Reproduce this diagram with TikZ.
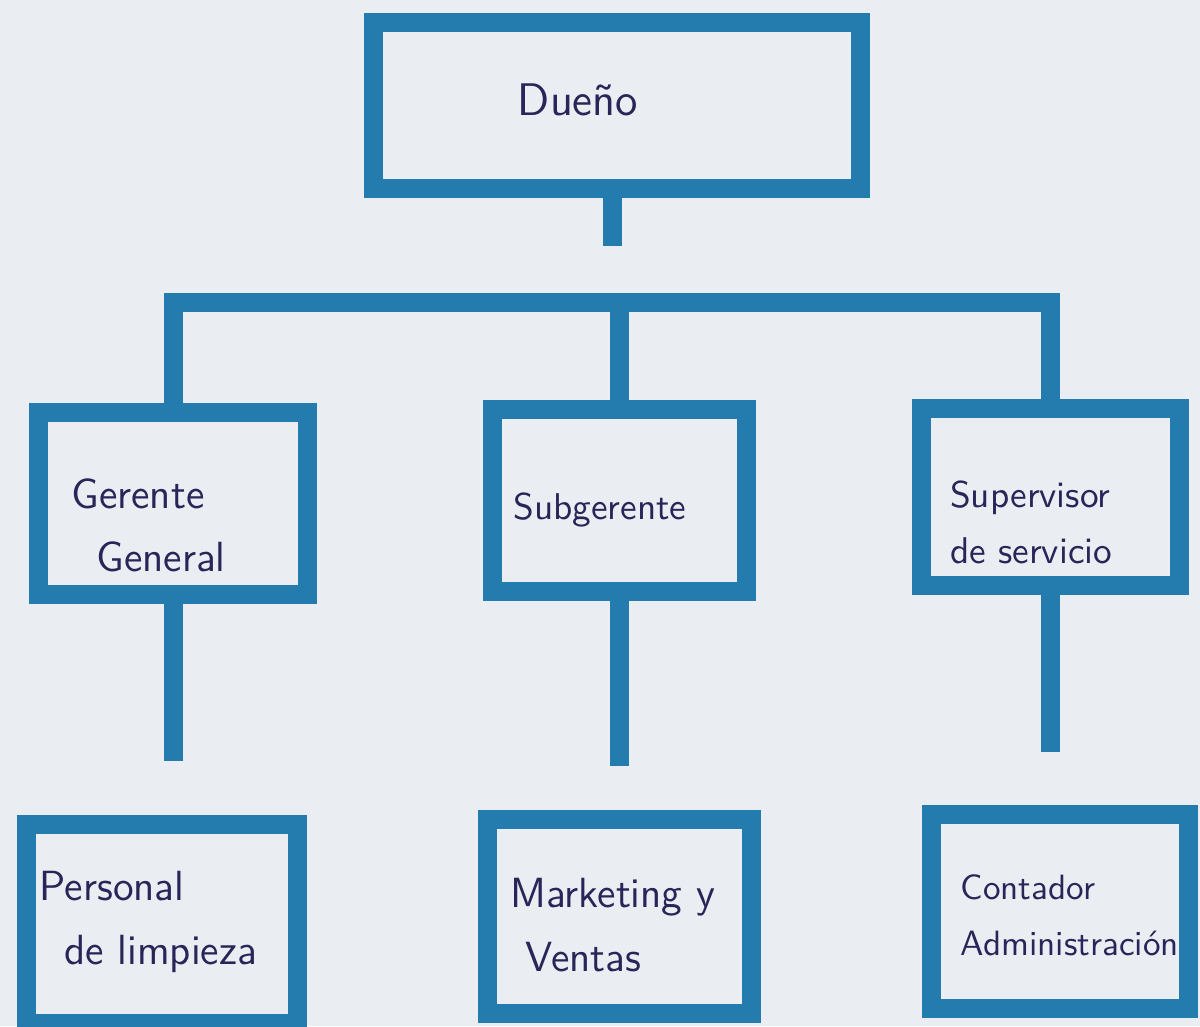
\documentclass[tikz,border=0pt]{standalone}
\usepackage{tikz}
\usetikzlibrary{calc}
\usetikzlibrary{positioning}
\usepackage{xcolor}
\definecolor{orgblue}{RGB}{36,124,174}
\definecolor{paper}{RGB}{234,238,242}
\definecolor{ink}{RGB}{42,36,88}
\newcommand{\widthframe}{1.9mm}
\tikzset{
    frame/.style={draw=orgblue, line width=\widthframe, rectangle, inner sep=0pt},
    link/.style={draw=orgblue, line width=\widthframe},
    hand/.style={ink, font=\sffamily\fontsize{10}{16}\selectfont, align=left, inner sep=0pt},
    midhand/.style={hand, font=\sffamily\fontsize{10.6}{16}\selectfont},
    largehand/.style={hand, font=\sffamily\fontsize{12}{18}\selectfont},
    bighand/.style={hand, font=\sffamily\fontsize{13}{16}\selectfont},
}
\begin{document}
\begin{tikzpicture}[x=0.1mm, y=-0.1mm]
    \fill[paper] (0,0) rectangle (1200,1026);
    \useasboundingbox (0,0) rectangle (1200,1026);
    \clip (0,0) rectangle (1200,1026);
    % boxes
    \node[frame, minimum width=48.7mm, minimum height=16.6mm] (dueno) at (617,105) {};
    \node[frame, minimum width=26.9mm, minimum height=18.2mm] (gerente) at (173,503) {};
    \node[frame, minimum width=25.4mm, minimum height=18.2mm] (subgerente) at (619,500) {};
    \node[frame, minimum width=25.8mm, minimum height=17.7mm] (supervisor) at (1050,497) {};
    \node[frame, minimum width=27.1mm, minimum height=19.9mm] (personal) at (162,924) {};
    \node[frame, minimum width=26.4mm, minimum height=19.4mm] (marketing) at (619,916) {};
    \node[frame, minimum width=25.7mm, minimum height=19.4mm] (contador) at (1060,911) {};
    % texts
    \node[bighand] (dueno-txt) at ($(dueno)+(-39,-5)$) {Dueño};
    \node[largehand, anchor=west] (gerente-txt) at ($(gerente.west)+(42,22)$) {Gerente\\\hspace*{2.5mm}General};
    \node[midhand] (subgerente-txt) at ($(subgerente)+(-19,10)$) {Subgerente};
    \node[midhand, anchor=west] (supervisor-txt) at ($(supervisor.west)+(38,25)$) {Supervisor\\de servicio};
    \node[largehand, anchor=west] (personal-txt) at ($(personal.west)+(22,-2)$) {Personal\\\hspace*{2.5mm}de limpieza};
    \node[largehand, anchor=west] (marketing-txt) at ($(marketing.west)+(32,9)$) {Marketing y\\\hspace*{1.5mm}Ventas};
    \node[hand, anchor=west] (contador-txt) at ($(contador.west)+(38,4)$) {Contador\\Administración};
    % connectors
    \coordinate (stub) at ($(dueno.south)+(-5,48)$);
    \coordinate (bar) at (0,302);
    \coordinate (gerente-end) at ($(gerente.south)+(0,157)$);
    \coordinate (subgerente-end) at ($(subgerente.south)+(0,165)$);
    \coordinate (supervisor-end) at ($(supervisor.south)+(0,157)$);
    \draw[link] (dueno.south -| stub) -- (stub);
    \draw[link] (gerente.north) |- (supervisor.north |- bar) -- (supervisor.north);
    \draw[link] (subgerente.north) -- (subgerente.north |- bar);
    \draw[link] (gerente.south) -- (gerente-end);
    \draw[link] (subgerente.south) -- (subgerente-end);
    \draw[link] (supervisor.south) -- (supervisor-end);
\end{tikzpicture}
\end{document}
